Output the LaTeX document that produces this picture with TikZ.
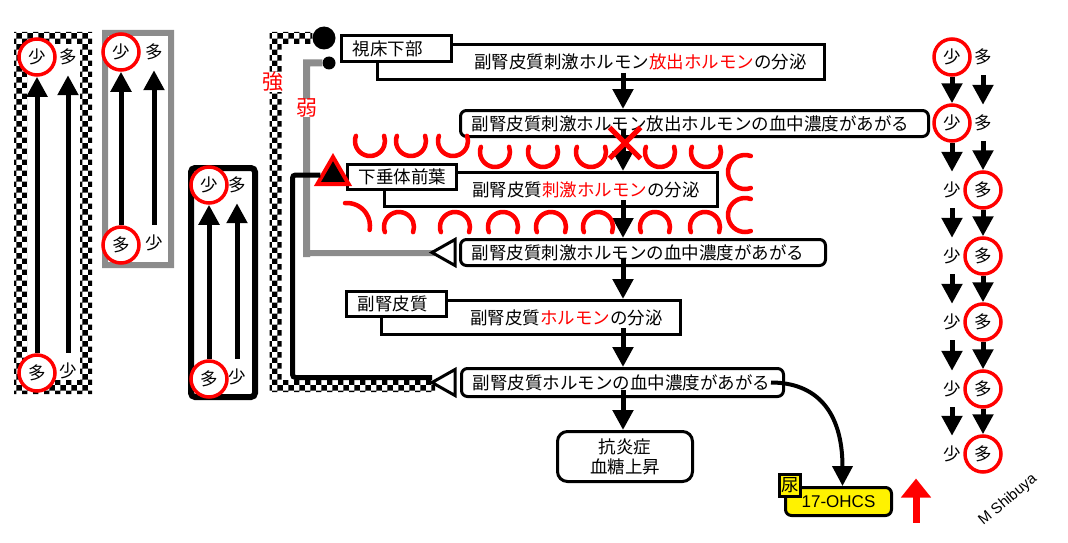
\documentclass[tikz,border=0pt]{standalone}
\usepackage{fontspec}
\setmainfont{Noto Sans CJK JP}
\newfontfamily\signfont{Liberation Sans}
\usetikzlibrary{arrows.meta}
\usetikzlibrary{calc}
\usetikzlibrary{patterns}
\usetikzlibrary{shapes.misc}
\usetikzlibrary{shapes.geometric}

\begin{document}
\begin{tikzpicture}[x=1pt, y=-1pt,
  jp/.style={font=\fontsize{17.5}{20}\selectfont},
  mainbox/.style={draw, line width=3pt, fill=white, anchor=north west, inner xsep=18pt, inner ysep=2pt, align=right, jp},
  tagbox/.style={draw, line width=3pt, fill=white, anchor=north west, inner xsep=11pt, inner ysep=2pt, align=left, jp},
  levelbox/.style={draw, line width=3pt, fill=white, rounded corners=6pt, anchor=north west, inner xsep=11pt, inner ysep=2pt, align=left, jp},
  flow/.style={line width=5pt, -{Triangle[width=20pt,length=20pt]}},
  lv/.style={circle, minimum size=36pt, inner sep=0pt, jp},
  lvc/.style={lv, draw=red, line width=3.5pt, fill=white},
  strongband/.style={pattern=checkerboard},
  weakband/.style={fill=black!45},
  opentri/.style={draw, line width=3pt, fill=white, line join=miter},
  wave/.style={draw=red, line width=4.5pt, line cap=round},
  loopname/.style={fill=white, inner sep=0pt, text=red, font=\fontsize{21}{21}\selectfont},
  ]
 \useasboundingbox (0,0) rectangle (1068,543);

 % panels on the left
 \fill[strongband, even odd rule] (14,32) rectangle (92,394) (27,44) rectangle (80,380);
 \fill[weakband, even odd rule] (102,30) rectangle (174,268) (108,36) rectangle (168,262);
 \draw[line width=6pt, rounded corners=4pt] (191,168) rectangle (255,397);

 \node[lvc] (pa1) at (37,57) {少};
 \node[lv] (pa2) at (68,57) {多};
 \node[lvc] (pa3) at (37,373) {多};
 \node[lv] (pa4) at (68,371) {少};
 \draw[flow] (pa3) -- (pa1);
 \draw[flow] (pa4) -- (pa2);

 \node[lvc] (pb1) at (121,52) {少};
 \node[lv] (pb2) at (154,52) {多};
 \node[lvc] (pb3) at (121,245) {多};
 \node[lv] (pb4) at (154,243) {少};
 \draw[flow] (pb3) -- (pb1);
 \draw[flow] (pb4) -- (pb2);

 \node[lvc] (pc1) at (209,185) {少};
 \node[lv] (pc2) at (237,185) {多};
 \node[lvc] (pc3) at (209,379) {多};
 \node[lv] (pc4) at (237,377) {少};
 \draw[flow] (pc3) -- (pc1);
 \draw[flow] (pc4) -- (pc2);

 % the axis
 \node[mainbox, text width=411pt, minimum height=35pt] (B) at (376,43) {副腎皮質刺激ホルモン\textcolor{red}{放出ホルモン}の分泌};
 \node[tagbox, text width=88pt, minimum height=26pt] (A) at (340,34) {視床下部};
 \node[levelbox, text width=446pt, minimum height=26pt] (C) at (459,109) {副腎皮質刺激ホルモン放出ホルモンの血中濃度があがる};
 \node[mainbox, text width=297pt, minimum height=34pt] (E) at (383,171) {副腎皮質\textcolor{red}{刺激ホルモン}の分泌};
 \node[tagbox, text width=87pt, minimum height=25pt] (D) at (346,163) {下垂体前葉};
 \node[levelbox, text width=343pt, minimum height=26pt] (F) at (459,238) {副腎皮質刺激ホルモンの血中濃度があがる};
 \node[mainbox, text width=263pt, minimum height=34pt] (H) at (380,299) {副腎皮質\textcolor{red}{ホルモン}の分泌};
 \node[tagbox, text width=78pt, minimum height=25pt] (G) at (345,290) {副腎皮質};
 \node[levelbox, text width=300pt, minimum height=28pt] (I) at (460,367) {副腎皮質ホルモンの血中濃度があがる};
 \node[levelbox, align=center, rounded corners=10pt, text width=113pt, minimum height=50pt] (J) at (556,430) {抗炎症\\血糖上昇};
 \node[levelbox, fill=yellow, align=center, inner xsep=0pt, minimum width=106pt, minimum height=28pt, font=\signfont\fontsize{17}{19}\selectfont] (K) at (784,486) {17-OHCS};
 \node[draw, line width=3pt, fill=yellow, anchor=north west, inner sep=0pt, minimum width=21pt, minimum height=22pt, jp] (urine) at (778,473) {尿};

 \coordinate (col) at (623,0);
 \foreach \a/\b in {B/C, C/E, E/F, F/H, H/I, I/J}
   \draw[flow, shorten <=-8pt] (\a.south -| col) -- (\b.north -| col);

 \node[cross out, draw=red, line width=5pt, minimum size=26pt] (stop) at (625,143) {};

 \draw[line width=4pt, -{Triangle[width=20pt,length=20pt]}] ($(I.east)+(-14,0)$) .. controls +(45,0) and +(0,-75) .. ($(K.north)+(4,0)$);
 \draw[red, line width=7pt, -{Triangle[width=29pt,length=19pt]}] ($(K.east)+(23,21)$) -- ($(K.east)+(23,-23)$);

 % feedback: strong loop
 \node[circle, fill, inner sep=0pt, minimum size=23pt] (sdot) at (324,38) {};
 \coordinate (s1) at (275.5,38);
 \coordinate (s2) at (275.5,386);
 \coordinate (tipI) at ($(I.west)+(-28,0)$);
 \fill[strongband] ($(s1)+(-6,-6)$) rectangle ($(sdot.west)+(0,6)$)
   ($(s1)+(-6,-6)$) rectangle ($(s2)+(6,6)$)
   ($(s2)+(-6,-6)$) rectangle ($(s2 -| tipI)+(3,6)$);

 % feedback: weak loop
 \node[circle, fill, inner sep=0pt, minimum size=13pt] (wdot) at (329,63) {};
 \coordinate (w1) at (306.5,63);
 \coordinate (w2) at (306.5,253.5);
 \coordinate (tipF) at ($(F.west)+(-27,0)$);
 \fill[weakband] ($(w1)+(-3.5,-3.5)$) rectangle ($(wdot.west)+(0,3.5)$)
   ($(w1)+(-3.5,-3.5)$) rectangle ($(w2)+(3.5,3.5)$)
   ($(w2)+(-3.5,-3.5)$) rectangle ($(tipF)+(3,3.5)$);

 \node[loopname] (strong) at (273,82) {強};
 \node[loopname] (weak) at (307,108) {弱};

 % feedback: short loop
 \node[regular polygon, regular polygon sides=3, draw=red, fill=black, line width=4pt, inner sep=0pt, minimum size=36pt] (ptri) at (333,175) {};
 \coordinate (b1) at (292.5,377.5);
 \draw[line width=5pt, rounded corners=3pt] (ptri.west) -| (b1) -- (b1 -| tipI);

 \draw[opentri] ($(I.west)+(-5,-13)$) -- (tipI) -- ($(I.west)+(-5,13)$) -- cycle;
 \draw[opentri] ($(F.west)+(-4,-13)$) -- (tipF) -- ($(F.west)+(-4,13)$) -- cycle;

 % red waves round the pituitary
 \foreach \x/\y in {370/141, 411/141, 453/141, 495/152, 543/152, 591/152, 660/152, 706/152}
   \draw[wave] (\x,\y) ++(200:15) arc[start angle=200, end angle=-20, radius=15];
 \foreach \x/\y in {399/227, 455/227, 503/227, 551/227, 598/227, 655/227, 705/227}
   \draw[wave] (\x,\y) ++(160:15) arc[start angle=160, end angle=380, radius=15];
 \foreach \x/\y in {745/172, 745/215}
   \draw[wave] (\x,\y) ++(290:17) arc[start angle=290, end angle=70, radius=17];
 \draw[wave] (347,226) ++(265:23) arc[start angle=265, end angle=370, radius=23];

 % levels on the right
 \foreach \i/\y/\ls/\rs in {1/57/lvc/lv, 2/123/lvc/lv, 3/190/lv/lvc, 4/256/lv/lvc, 5/322/lv/lvc, 6/389/lv/lvc, 7/454/lv/lvc} {
   \node[\ls] (l\i) at (952,\y) {少};
   \node[\rs] (r\i) at (983,\y) {多};
 }
 \foreach \i in {1,...,6} {
   \pgfmathtruncatemacro\j{\i+1}
   \draw[flow] (l\i) -- (l\j);
   \draw[flow] (r\i) -- (r\j);
 }

 \node[rotate=40, font=\signfont\fontsize{15}{17}\selectfont] (sign) at (1008,500) {M Shibuya};
\end{tikzpicture}
\end{document}
